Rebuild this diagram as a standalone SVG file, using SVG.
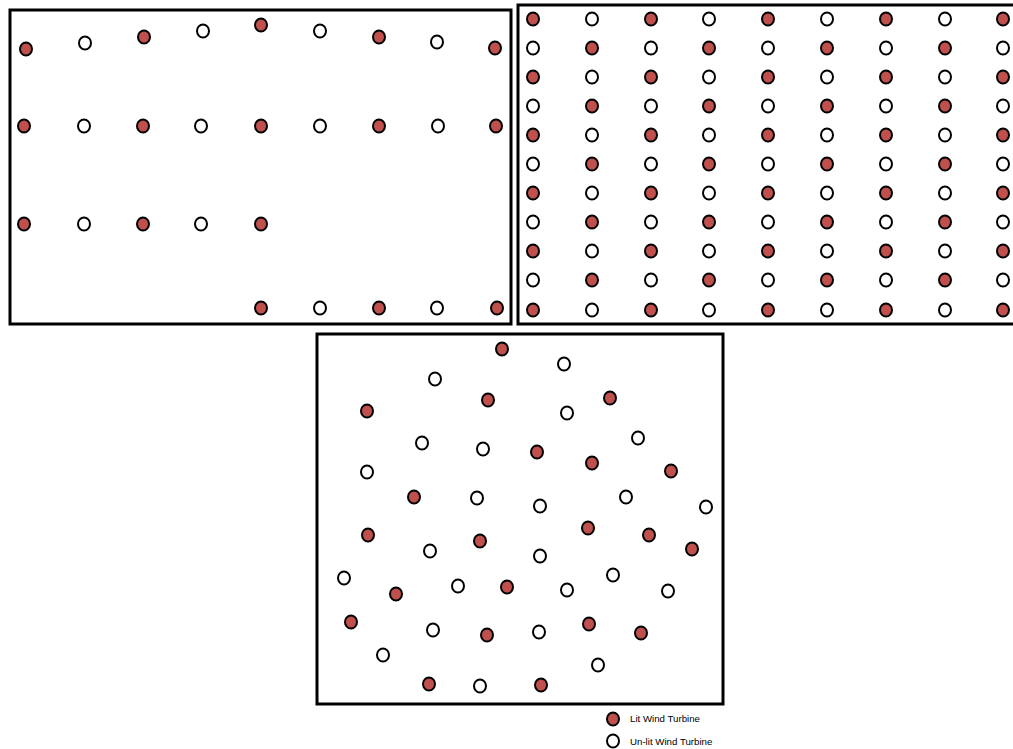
<svg xmlns="http://www.w3.org/2000/svg" width="1013" height="749" viewBox="0 0 1013 749">
<style>
.frame{fill:#fff;stroke:#000;stroke-width:3}
.lit{fill:#c0504d;stroke:#000;stroke-width:2}
.unlit{fill:#fff;stroke:#000;stroke-width:2}
.lbl{font-family:"Liberation Sans",Arial,sans-serif;font-size:9.7px;fill:#000}
</style>
<defs>
<ellipse id="t" cx="0" cy="0" rx="6" ry="6.5"/>
</defs>
<rect width="1013" height="749" fill="#fff"/>
<g id="panel-1">
<rect class="frame" x="10" y="10" width="501" height="314"/>
<use href="#t" class="lit" x="26" y="49"/><use href="#t" class="unlit" x="85" y="43"/><use href="#t" class="lit" x="144" y="37"/><use href="#t" class="unlit" x="203" y="31"/><use href="#t" class="lit" x="261" y="25"/><use href="#t" class="unlit" x="320" y="31"/><use href="#t" class="lit" x="379" y="37"/><use href="#t" class="unlit" x="437" y="42"/><use href="#t" class="lit" x="495" y="48"/>
<use href="#t" class="lit" x="24" y="126"/><use href="#t" class="unlit" x="84" y="126"/><use href="#t" class="lit" x="143" y="126"/><use href="#t" class="unlit" x="201" y="126"/><use href="#t" class="lit" x="261" y="126"/><use href="#t" class="unlit" x="320" y="126"/><use href="#t" class="lit" x="379" y="126"/><use href="#t" class="unlit" x="438" y="126"/><use href="#t" class="lit" x="496" y="126"/>
<use href="#t" class="lit" x="24" y="224"/><use href="#t" class="unlit" x="84" y="224"/><use href="#t" class="lit" x="143" y="224"/><use href="#t" class="unlit" x="201" y="224"/><use href="#t" class="lit" x="261" y="224"/>
<use href="#t" class="lit" x="261" y="308"/><use href="#t" class="unlit" x="320" y="308"/><use href="#t" class="lit" x="379" y="308"/><use href="#t" class="unlit" x="437" y="308"/><use href="#t" class="lit" x="497" y="308"/>
</g>
<g id="panel-2">
<rect class="frame" x="518" y="5" width="505" height="319"/>
<use href="#t" class="lit" x="533" y="19"/><use href="#t" class="unlit" x="592" y="19"/><use href="#t" class="lit" x="651" y="19"/><use href="#t" class="unlit" x="709" y="19"/><use href="#t" class="lit" x="768" y="19"/><use href="#t" class="unlit" x="827" y="19"/><use href="#t" class="lit" x="886" y="19"/><use href="#t" class="unlit" x="945" y="19"/><use href="#t" class="lit" x="1003" y="19"/>
<use href="#t" class="unlit" x="533" y="48"/><use href="#t" class="lit" x="592" y="48"/><use href="#t" class="unlit" x="651" y="48"/><use href="#t" class="lit" x="709" y="48"/><use href="#t" class="unlit" x="768" y="48"/><use href="#t" class="lit" x="827" y="48"/><use href="#t" class="unlit" x="886" y="48"/><use href="#t" class="lit" x="945" y="48"/><use href="#t" class="unlit" x="1003" y="48"/>
<use href="#t" class="lit" x="533" y="77"/><use href="#t" class="unlit" x="592" y="77"/><use href="#t" class="lit" x="651" y="77"/><use href="#t" class="unlit" x="709" y="77"/><use href="#t" class="lit" x="768" y="77"/><use href="#t" class="unlit" x="827" y="77"/><use href="#t" class="lit" x="886" y="77"/><use href="#t" class="unlit" x="945" y="77"/><use href="#t" class="lit" x="1003" y="77"/>
<use href="#t" class="unlit" x="533" y="106"/><use href="#t" class="lit" x="592" y="106"/><use href="#t" class="unlit" x="651" y="106"/><use href="#t" class="lit" x="709" y="106"/><use href="#t" class="unlit" x="768" y="106"/><use href="#t" class="lit" x="827" y="106"/><use href="#t" class="unlit" x="886" y="106"/><use href="#t" class="lit" x="945" y="106"/><use href="#t" class="unlit" x="1003" y="106"/>
<use href="#t" class="lit" x="533" y="135"/><use href="#t" class="unlit" x="592" y="135"/><use href="#t" class="lit" x="651" y="135"/><use href="#t" class="unlit" x="709" y="135"/><use href="#t" class="lit" x="768" y="135"/><use href="#t" class="unlit" x="827" y="135"/><use href="#t" class="lit" x="886" y="135"/><use href="#t" class="unlit" x="945" y="135"/><use href="#t" class="lit" x="1003" y="135"/>
<use href="#t" class="unlit" x="533" y="164"/><use href="#t" class="lit" x="592" y="164"/><use href="#t" class="unlit" x="651" y="164"/><use href="#t" class="lit" x="709" y="164"/><use href="#t" class="unlit" x="768" y="164"/><use href="#t" class="lit" x="827" y="164"/><use href="#t" class="unlit" x="886" y="164"/><use href="#t" class="lit" x="945" y="164"/><use href="#t" class="unlit" x="1003" y="164"/>
<use href="#t" class="lit" x="533" y="193"/><use href="#t" class="unlit" x="592" y="193"/><use href="#t" class="lit" x="651" y="193"/><use href="#t" class="unlit" x="709" y="193"/><use href="#t" class="lit" x="768" y="193"/><use href="#t" class="unlit" x="827" y="193"/><use href="#t" class="lit" x="886" y="193"/><use href="#t" class="unlit" x="945" y="193"/><use href="#t" class="lit" x="1003" y="193"/>
<use href="#t" class="unlit" x="533" y="222"/><use href="#t" class="lit" x="592" y="222"/><use href="#t" class="unlit" x="651" y="222"/><use href="#t" class="lit" x="709" y="222"/><use href="#t" class="unlit" x="768" y="222"/><use href="#t" class="lit" x="827" y="222"/><use href="#t" class="unlit" x="886" y="222"/><use href="#t" class="lit" x="945" y="222"/><use href="#t" class="unlit" x="1003" y="222"/>
<use href="#t" class="lit" x="533" y="251"/><use href="#t" class="unlit" x="592" y="251"/><use href="#t" class="lit" x="651" y="251"/><use href="#t" class="unlit" x="709" y="251"/><use href="#t" class="lit" x="768" y="251"/><use href="#t" class="unlit" x="827" y="251"/><use href="#t" class="lit" x="886" y="251"/><use href="#t" class="unlit" x="945" y="251"/><use href="#t" class="lit" x="1003" y="251"/>
<use href="#t" class="unlit" x="533" y="280"/><use href="#t" class="lit" x="592" y="280"/><use href="#t" class="unlit" x="651" y="280"/><use href="#t" class="lit" x="709" y="280"/><use href="#t" class="unlit" x="768" y="280"/><use href="#t" class="lit" x="827" y="280"/><use href="#t" class="unlit" x="886" y="280"/><use href="#t" class="lit" x="945" y="280"/><use href="#t" class="unlit" x="1003" y="280"/>
<use href="#t" class="lit" x="533" y="310"/><use href="#t" class="unlit" x="592" y="310"/><use href="#t" class="lit" x="651" y="310"/><use href="#t" class="unlit" x="709" y="310"/><use href="#t" class="lit" x="768" y="310"/><use href="#t" class="unlit" x="827" y="310"/><use href="#t" class="lit" x="886" y="310"/><use href="#t" class="unlit" x="945" y="310"/><use href="#t" class="lit" x="1003" y="310"/>
</g>
<g id="panel-3">
<rect class="frame" x="317" y="334" width="406" height="370"/>
<use href="#t" class="lit" x="502" y="349"/><use href="#t" class="unlit" x="564" y="364"/><use href="#t" class="unlit" x="435" y="379"/><use href="#t" class="lit" x="488" y="400"/><use href="#t" class="lit" x="610" y="398"/><use href="#t" class="unlit" x="567" y="413"/><use href="#t" class="lit" x="367" y="411"/><use href="#t" class="unlit" x="422" y="443"/><use href="#t" class="unlit" x="638" y="438"/><use href="#t" class="unlit" x="483" y="449"/><use href="#t" class="lit" x="537" y="452"/><use href="#t" class="lit" x="592" y="463"/><use href="#t" class="lit" x="671" y="471"/><use href="#t" class="unlit" x="367" y="472"/><use href="#t" class="lit" x="414" y="497"/><use href="#t" class="unlit" x="477" y="498"/><use href="#t" class="unlit" x="626" y="497"/><use href="#t" class="unlit" x="540" y="506"/><use href="#t" class="unlit" x="706" y="507"/><use href="#t" class="lit" x="588" y="528"/><use href="#t" class="lit" x="368" y="535"/><use href="#t" class="lit" x="649" y="535"/><use href="#t" class="lit" x="480" y="541"/><use href="#t" class="unlit" x="430" y="551"/><use href="#t" class="unlit" x="540" y="556"/><use href="#t" class="lit" x="692" y="549"/><use href="#t" class="unlit" x="613" y="575"/><use href="#t" class="unlit" x="344" y="578"/><use href="#t" class="unlit" x="458" y="586"/><use href="#t" class="lit" x="507" y="587"/><use href="#t" class="lit" x="396" y="594"/><use href="#t" class="unlit" x="567" y="590"/><use href="#t" class="unlit" x="668" y="591"/><use href="#t" class="lit" x="351" y="622"/><use href="#t" class="unlit" x="433" y="630"/><use href="#t" class="lit" x="487" y="635"/><use href="#t" class="unlit" x="539" y="632"/><use href="#t" class="lit" x="589" y="624"/><use href="#t" class="lit" x="641" y="633"/><use href="#t" class="unlit" x="383" y="655"/><use href="#t" class="unlit" x="598" y="665"/><use href="#t" class="lit" x="429" y="684"/><use href="#t" class="unlit" x="480" y="686"/><use href="#t" class="lit" x="541" y="685"/>
</g>
<g id="legend">
<use href="#t" class="lit" x="613" y="719"/>
<text class="lbl" x="630" y="722">Lit Wind Turbine</text>
<use href="#t" class="unlit" x="613" y="741"/>
<text class="lbl" x="630" y="745">Un-lit Wind Turbine</text>
</g>
</svg>
